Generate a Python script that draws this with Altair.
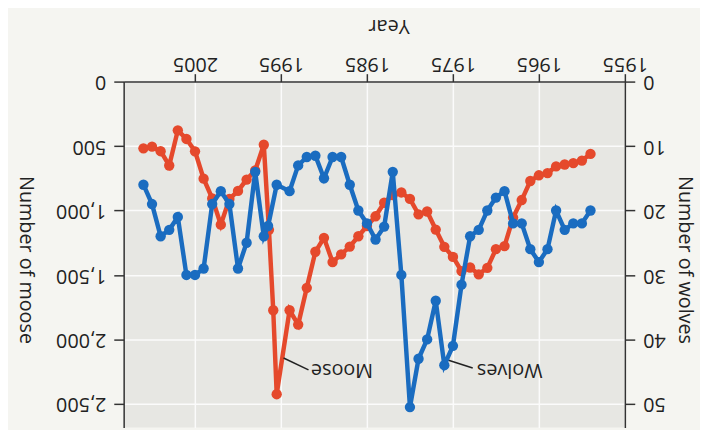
import altair as alt
import pandas as pd

# ---- data ----
moose_years = [1959, 1960, 1961, 1962, 1963, 1964, 1965, 1966, 1967, 1968,
               1969, 1970, 1971, 1972, 1973, 1974, 1975, 1976, 1977, 1978,
               1979, 1980, 1981, 1982, 1983, 1984, 1985, 1986, 1987, 1988,
               1989, 1990, 1991, 1992, 1993, 1994, 1995.5, 1995.9, 1996.4,
               1997, 1998, 1999, 2000, 2001, 2002, 2003, 2004, 2005, 2006,
               2007, 2008, 2009, 2010, 2011]
moose_counts = [561, 613, 633, 643, 658, 710, 727, 771, 919, 1055,
                1276, 1300, 1445, 1495, 1442, 1470, 1360, 1282, 1148, 1008,
                1030, 910, 860, 880, 940, 1045, 1120, 1200, 1280, 1340,
                1400, 1212, 1320, 1600, 1885, 1774, 2425, 1774, 1150,
                490, 690, 760, 848, 910, 1110, 906, 753, 541, 445,
                378, 651, 540, 505, 518]

wolf_years = [1959, 1960, 1961, 1962, 1963, 1964, 1965, 1966, 1967, 1968,
              1969, 1970, 1971, 1972, 1973, 1974, 1975, 1976, 1977, 1978,
              1979, 1980, 1981, 1982, 1983, 1984, 1985, 1986, 1987, 1988,
              1989, 1990, 1991, 1992, 1993, 1994, 1995.5, 1996.5,
              1997, 1998, 1999, 2000, 2001, 2002, 2003, 2004, 2005, 2006,
              2007, 2008, 2009, 2010, 2011]
wolf_counts = [20, 22, 22, 23, 20, 26, 28, 26, 22, 22,
               17, 18, 20, 23, 24, 31.5, 41, 44, 34, 40,
               43, 50.5, 30, 14, 22.5, 24.5, 22, 20, 16, 11.7,
               11.7, 15, 11.5, 11.7, 13, 17, 16, 22.4,
               24, 14, 25, 29, 19, 17, 19, 29, 30, 30,
               21, 23, 24, 19, 16]

year_ticks = [1955, 1965, 1975, 1985, 1995, 2005]
moose_ticks = [0, 500, 1000, 1500, 2000, 2500]
wolf_ticks = [0, 10, 20, 30, 40, 50]

label_names = ["Moose", "Wolves"]
label_years = [1987.9, 1968.4]
label_moose = [2236, 2236]
leader_x1 = [1994.7, 1975.6]
leader_x2 = [1991.8, 1972.7]
leader_y1 = [2144, 2160]
leader_y2 = [2236, 2222]

MOOSE_COLOR = "#e5492c"
WOLF_COLOR = "#1a6cc0"
FONT = "Open Sans"
AX = "#333333"

moose_df = pd.DataFrame({"year": moose_years, "moose": moose_counts})
wolf_df = pd.DataFrame({"year": wolf_years, "wolves": wolf_counts})
label_df = pd.DataFrame({"year": label_years, "moose": label_moose, "name": label_names})
leader_df = pd.DataFrame({"year": leader_x1, "year2": leader_x2,
                          "moose": leader_y1, "moose2": leader_y2})

X_DOMAIN = [1955, 2013.3]
MOOSE_DOMAIN = [0, 2684]
WOLF_DOMAIN = [0, 2684 / 50]

x_axis = alt.Axis(orient="top", values=year_ticks, format="d", labelAngle=180,
                  labelAlign="center", labelBaseline="top", labelFontSize=20,
                  labelFont=FONT, labelColor="#222", labelPadding=0,
                  tickSize=8, tickColor=AX, tickWidth=1.5, domainColor=AX,
                  domainWidth=1.5, grid=True, gridColor="#fbfbfb", gridWidth=1.5,
                  title="Year", titleAngle=180, titleFont=FONT, titleFontSize=20,
                  titleFontWeight="normal", titleColor="#222", titleX=268,
                  titleY=-57, titleAlign="center", titleBaseline="middle")

moose_axis = alt.Axis(orient="left", values=moose_ticks, format=",d", labelAngle=180,
                      labelAlign="left", labelBaseline="middle", labelFontSize=20,
                      labelFont=FONT, labelColor="#222", labelPadding=8,
                      tickSize=10, tickColor=AX, tickWidth=1.5, domainColor=AX,
                      domainWidth=1.5, grid=True, gridColor="#fbfbfb", gridWidth=1.5,
                      title="Number of moose", titleAngle=90, titleFont=FONT,
                      titleFontSize=20, titleFontWeight="normal", titleColor="#222",
                      titleX=-99, titleY=180, titleAlign="center",
                      titleBaseline="middle")

wolf_axis = alt.Axis(orient="right", values=wolf_ticks, format="d", labelAngle=180,
                     labelAlign="right", labelBaseline="middle", labelFontSize=20,
                     labelFont=FONT, labelColor="#222", labelPadding=8,
                     tickSize=10, tickColor=AX, tickWidth=1.5, domainColor=AX,
                     domainWidth=1.5, grid=False,
                     title="Number of wolves", titleAngle=90, titleFont=FONT,
                     titleFontSize=20, titleFontWeight="normal", titleColor="#222",
                     titleX=60, titleY=180, titleAlign="center",
                     titleBaseline="middle")


def xenc():
    return alt.X("year:Q", scale=alt.Scale(domain=X_DOMAIN, reverse=True, nice=False,
                                           zero=False), axis=x_axis)


def yenc_moose():
    return alt.Y("moose:Q", scale=alt.Scale(domain=MOOSE_DOMAIN, reverse=True, nice=False),
                 axis=moose_axis)


moose_line = alt.Chart(moose_df).mark_line(color=MOOSE_COLOR, strokeWidth=4.5).encode(
    x=xenc(), y=yenc_moose())
moose_pts = alt.Chart(moose_df).mark_circle(color=MOOSE_COLOR, size=110, opacity=1).encode(
    x=xenc(), y=yenc_moose())
leaders = alt.Chart(leader_df).mark_rule(color="#222", strokeWidth=1.5).encode(
    x=xenc(), x2="year2:Q", y=yenc_moose(), y2="moose2:Q")
labels = alt.Chart(label_df).mark_text(angle=180, align="center", baseline="middle",
                                       font=FONT, fontSize=20, color="#222").encode(
    x=xenc(), y=yenc_moose(), text="name:N")

moose_group = alt.layer(moose_line, moose_pts, leaders, labels)

wolf_y = alt.Y("wolves:Q", scale=alt.Scale(domain=WOLF_DOMAIN, reverse=True, nice=False),
               axis=wolf_axis)
wolf_line = alt.Chart(wolf_df).mark_line(color=WOLF_COLOR, strokeWidth=4.5).encode(
    x=xenc(), y=wolf_y)
wolf_pts = alt.Chart(wolf_df).mark_circle(color=WOLF_COLOR, size=110, opacity=1).encode(
    x=xenc(), y=wolf_y)
wolf_group = alt.layer(wolf_line, wolf_pts)

chart = alt.layer(moose_group, wolf_group).resolve_scale(y="independent").properties(
    width=507, height=350,
    autosize=alt.AutoSizeParams(type="none"),
    padding={"left": 117, "top": 72, "right": 76, "bottom": 0},
    background="#f5f5f1",
).configure_view(fill="#e7e7e3", strokeWidth=0)

chart.save("out.html", embed_options={"renderer": "svg", "actions": False})
